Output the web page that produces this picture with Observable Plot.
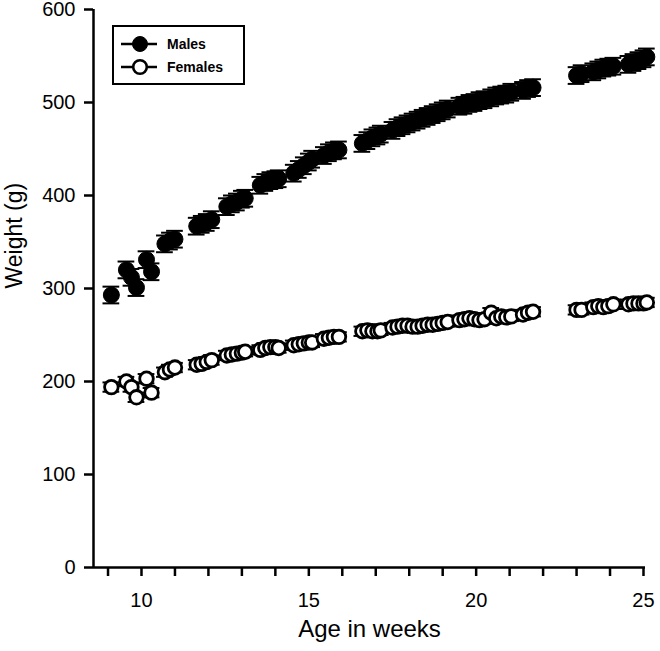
<!DOCTYPE html>
<html>
<head>
<meta charset="utf-8">
<script src="https://cdn.jsdelivr.net/npm/d3@7"></script>
<script src="https://cdn.jsdelivr.net/npm/@observablehq/plot@0.6"></script>
<style>
  html, body { margin: 0; padding: 0; background: #fff; }
  #wrap { position: relative; width: 660px; height: 651px; font-family: "Liberation Sans", Arial, sans-serif; }
  #legend { position: absolute; left: 112px; top: 25px; width: 129px; height: 56px; border: 2.5px solid #000; background: #fff; }
  #legend svg { display: block; }
</style>
</head>
<body>
<div id="wrap"></div>
<script>
// Age (weeks) of each weighing
const ages = [9.1, 9.55, 9.7, 9.85, 10.15, 10.3, 10.7, 10.85, 11.0, 11.65, 11.8, 11.95, 12.1,
  12.55, 12.7, 12.85, 13.0, 13.1, 13.55, 13.7, 13.85, 14.0, 14.1, 14.55, 14.7, 14.85, 15.0, 15.1,
  15.45, 15.6, 15.75, 15.9, 16.6, 16.75, 16.9, 17.05, 17.15, 17.5, 17.65, 17.8, 17.95, 18.1, 18.25,
  18.4, 18.55, 18.7, 18.85, 19.0, 19.15, 19.5, 19.65, 19.8, 19.95, 20.1, 20.25, 20.45, 20.6, 20.75,
  20.9, 21.05, 21.4, 21.55, 21.7, 23.0, 23.15, 23.5, 23.65, 23.8, 23.95, 24.1, 24.55, 24.7, 24.85,
  25.0, 25.1];
// Mean weight (g), males
const males = [293, 320, 312, 301, 331, 318, 348, 351, 353, 367, 369, 371, 374,
  388, 391, 393, 396, 397, 411, 414, 416, 417, 418, 424, 428, 432, 436, 439,
  443, 446, 448, 449, 456, 459, 462, 464, 466, 470, 473, 475, 477, 479, 481,
  483, 485, 487, 489, 491, 493, 496, 497, 499, 500, 502, 503, 505, 507, 508,
  509, 511, 513, 515, 516, 529, 531, 533, 535, 537, 538, 539, 541, 543, 545,
  547, 549];
// Mean weight (g), females
const females = [194, 200, 194, 183, 203, 188, 210, 213, 215, 218, 219, 221, 223,
  228, 229, 230, 231, 232, 234, 236, 237, 237, 236, 239, 240, 241, 242, 242,
  246, 247, 248, 248, 254, 255, 254, 254, 255, 258, 259, 260, 260, 259, 259,
  260, 261, 261, 262, 263, 264, 266, 267, 268, 267, 266, 267, 274, 268, 270,
  269, 270, 272, 274, 275, 277, 277, 280, 281, 280, 281, 283, 283, 284, 284,
  284, 285];
// Standard error of the mean (g)
const maleSem = 9;
const femaleSem = 5;
// Axis ticks
const xTicks = [9, 10, 11, 12, 13, 14, 15, 16, 17, 18, 19, 20, 21, 22, 23, 24, 25];
const xTickLabels = [10, 15, 20, 25];
const yTicks = [0, 100, 200, 300, 400, 500, 600];
const xTitle = "Age in weeks";
const yTitle = "Weight (g)";
const seriesNames = ["Males", "Females"];

const rows = ages.flatMap((a, i) => [
  {age: a, weight: males[i], sem: maleSem, sex: "Males"},
  {age: a, weight: females[i], sem: femaleSem, sex: "Females"}
]);
const maleRows = rows.filter(d => d.sex === "Males");
const femaleRows = rows.filter(d => d.sex === "Females");
const capHalf = 0.25;

function errorMarks(data) {
  return [
    Plot.ruleX(data, {x: "age", y1: d => d.weight - d.sem, y2: d => d.weight + d.sem, stroke: "#000", strokeWidth: 2}),
    Plot.ruleY(data, {y: d => d.weight + d.sem, x1: d => d.age - capHalf, x2: d => d.age + capHalf, stroke: "#000", strokeWidth: 2}),
    Plot.ruleY(data, {y: d => d.weight - d.sem, x1: d => d.age - capHalf, x2: d => d.age + capHalf, stroke: "#000", strokeWidth: 2})
  ];
}

const chart = Plot.plot({
  width: 660,
  height: 651,
  marginLeft: 93,
  marginRight: 15,
  marginTop: 9,
  marginBottom: 84,
  style: {fontFamily: "'Liberation Sans', Arial, sans-serif", background: "#fff", color: "#000"},
  x: {domain: [8.566, 25.06]},
  y: {domain: [0, 600]},
  marks: [
    ...errorMarks(maleRows),
    Plot.dot(maleRows, {x: "age", y: "weight", r: 8, fill: "#000", stroke: "#000", strokeWidth: 1}),
    ...errorMarks(femaleRows),
    Plot.dot(femaleRows, {x: "age", y: "weight", r: 6.8, fill: "#fff", stroke: "#000", strokeWidth: 2.8}),
    Plot.axisX({ticks: xTicks, tickSize: 9, tickPadding: 16, strokeWidth: 2.5, fontSize: 20,
      tickFormat: d => xTickLabels.includes(d) ? String(d) : "", label: null}),
    Plot.axisY({ticks: yTicks, tickSize: 9, tickPadding: 9, strokeWidth: 2.5, fontSize: 20, label: null}),
    Plot.ruleY([0], {stroke: "#000", strokeWidth: 2.5}),
    Plot.ruleX([8.566], {stroke: "#000", strokeWidth: 2.5}),
    Plot.text([yTitle], {frameAnchor: "left", rotate: -90, dx: -79, fontSize: 23, fill: "#000"}),
    Plot.text([xTitle], {frameAnchor: "bottom", dy: 69, fontSize: 24, fill: "#000"})
  ]
});

const wrap = document.getElementById("wrap");
wrap.appendChild(chart);

// Legend (inside the plot area, top-left)
const legend = document.createElement("div");
legend.id = "legend";
const ns = "http://www.w3.org/2000/svg";
const lsvg = document.createElementNS(ns, "svg");
lsvg.setAttribute("width", "129");
lsvg.setAttribute("height", "56");
seriesNames.forEach((name, i) => {
  const cy = 17 + i * 23;
  const line = document.createElementNS(ns, "line");
  line.setAttribute("x1", 7); line.setAttribute("x2", 43);
  line.setAttribute("y1", cy); line.setAttribute("y2", cy);
  line.setAttribute("stroke", "#000"); line.setAttribute("stroke-width", 2.5);
  lsvg.appendChild(line);
  const c = document.createElementNS(ns, "circle");
  c.setAttribute("cx", 26); c.setAttribute("cy", cy);
  c.setAttribute("r", name === "Males" ? 7.5 : 6.8);
  c.setAttribute("fill", name === "Males" ? "#000" : "#fff");
  c.setAttribute("stroke", "#000"); c.setAttribute("stroke-width", name === "Males" ? 1 : 2.6);
  lsvg.appendChild(c);
  const t = document.createElementNS(ns, "text");
  t.setAttribute("x", 53); t.setAttribute("y", cy);
  t.setAttribute("dy", "0.35em");
  t.setAttribute("font-size", 14);
  t.setAttribute("font-weight", "bold");
  t.setAttribute("font-family", "'Liberation Sans', Arial, sans-serif");
  t.textContent = name;
  lsvg.appendChild(t);
});
legend.appendChild(lsvg);
wrap.appendChild(legend);
</script>
</body>
</html>
